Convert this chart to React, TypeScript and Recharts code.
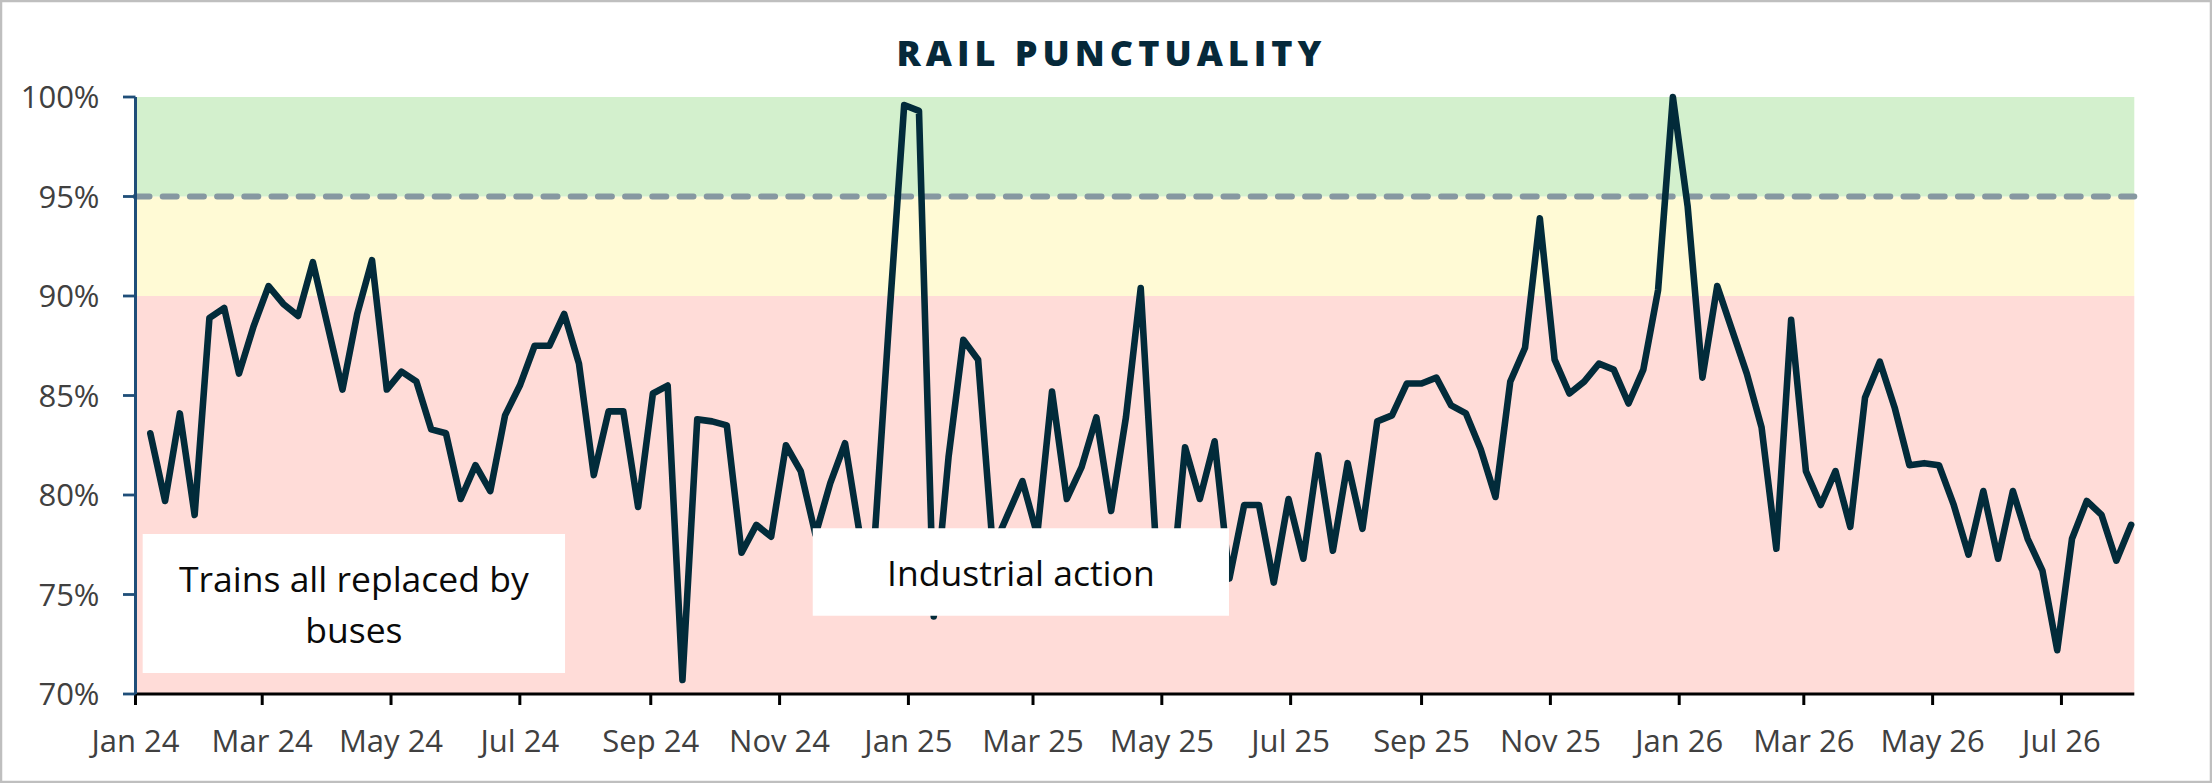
import React from 'react';
import { LineChart, Line, XAxis, YAxis, ReferenceArea, ReferenceLine } from 'recharts';

// ---------- data ----------
const axisStartDate = '2024-01-01';
const firstWeekDate = '2024-01-08';
const axisEndDay = 946.5;

// weekly rail punctuality (%), one value per week from 8 Jan 2024
const punctuality: number[] = [
  83.1, 79.7, 84.1, 79.0, 88.9, 89.4, 86.1, 88.5, 90.5, 89.6,
  89.0, 91.7, 88.5, 85.3, 89.1, 91.8, 85.3, 86.2, 85.7, 83.3,
  83.1, 79.8, 81.5, 80.2, 84.0, 85.5, 87.5, 87.5, 89.1, 86.6,
  81.0, 84.2, 84.2, 79.4, 85.1, 85.5, 70.7, 83.8, 83.7, 83.5,
  77.1, 78.5, 77.9, 82.5, 81.2, 78.0, 80.6, 82.6, 78.0, 77.8,
  89.0, 99.6, 99.3, 73.9, 81.9, 87.8, 86.8, 77.3, 79.0, 80.7,
  78.0, 85.2, 79.8, 81.4, 83.9, 79.2, 83.9, 90.4, 77.8, 74.5,
  82.4, 79.8, 82.7, 75.8, 79.5, 79.5, 75.6, 79.8, 76.8, 82.0,
  77.2, 81.6, 78.3, 83.7, 84.0, 85.6, 85.6, 85.9, 84.5, 84.1,
  82.3, 79.9, 85.7, 87.4, 93.9, 86.8, 85.1, 85.7, 86.6, 86.3,
  84.6, 86.3, 90.3, 100.0, 94.5, 85.9, 90.5, 88.3, 86.1, 83.4,
  77.3, 88.8, 81.2, 79.5, 81.2, 78.4, 84.9, 86.7, 84.4, 81.5,
  81.6, 81.5, 79.5, 77.0, 80.2, 76.8, 80.2, 77.8, 76.2, 72.2,
  77.8, 79.7, 79.0, 76.7, 78.5,
];

const tickMonths = [
  '2024-01-01', '2024-03-01', '2024-05-01', '2024-07-01', '2024-09-01', '2024-11-01',
  '2025-01-01', '2025-03-01', '2025-05-01', '2025-07-01', '2025-09-01', '2025-11-01',
  '2026-01-01', '2026-03-01', '2026-05-01', '2026-07-01',
];
const tickLabels = [
  'Jan 24', 'Mar 24', 'May 24', 'Jul 24', 'Sep 24', 'Nov 24',
  'Jan 25', 'Mar 25', 'May 25', 'Jul 25', 'Sep 25', 'Nov 25',
  'Jan 26', 'Mar 26', 'May 26', 'Jul 26',
];

const yTicks = [70, 75, 80, 85, 90, 95, 100];
const bandEdges = [70, 90, 95, 100];
const targetLevel = 95;

const annotationTexts = [['Trains all replaced by', 'buses'], ['Industrial action']];
// annotation box extents in data units: [dayFrom, dayTo, valueFrom, valueTo]
const annotationExtents = [
  [3.4, 203.4, 71.06, 78.04],
  [320.7, 517.8, 73.93, 78.33],
];

// ---------- derived ----------
const DAY_MS = 86400000;
const dayOf = (d: string) => (Date.parse(d) - Date.parse(axisStartDate)) / DAY_MS;
const firstDay = dayOf(firstWeekDate);
const chartData = punctuality.map((v, i) => ({ day: firstDay + 7 * i, v }));
const tickDays = tickMonths.map(dayOf);
const labelByDay: Record<number, string> = {};
tickDays.forEach((d, i) => { labelByDay[d] = tickLabels[i]; });

// ---------- styles ----------
const bandColors = ['#FFDCD8', '#FFFAD5', '#D3F0CD'];
const lineColor = '#022B3A';
const FONT = '"Open Sans", "Liberation Sans", sans-serif';

const W = 2212;
const H = 783;

const AnnotationLabel = (props: any) => {
  const vb = props.viewBox || {};
  const { x = 0, y = 0, width = 0, height = 0 } = vb;
  const lines: string[] = props.lines || [];
  const cx = x + width / 2;
  const cy = y + height / 2;
  const lh = 50.4;
  const capHalf = 14.2;
  return (
    <g>
      {lines.map((t, i) => (
        <text
          key={i}
          x={cx}
          y={cy + capHalf + (i - (lines.length - 1) / 2) * lh}
          textAnchor="middle"
          fontFamily={FONT}
          fontSize={35.5}
          fill="#0a0a0a"
        >
          {t}
        </text>
      ))}
    </g>
  );
};

export default function App() {
  return (
    <div style={{ position: 'absolute', left: 0, top: 0, width: W, height: H, background: '#fff', overflow: 'hidden' }}>
      <LineChart
        width={W}
        height={H}
        data={chartData}
        margin={{ top: 97, right: 77.7, bottom: 39, left: 0 }}
      >
        {bandEdges.slice(0, -1).map((from, i) => (
          <ReferenceArea
            key={'band' + i}
            y1={from}
            y2={bandEdges[i + 1]}
            fill={bandColors[i]}
            fillOpacity={1}
            stroke="none"
            ifOverflow="extendDomain"
          />
        ))}
        <ReferenceLine
          y={targetLevel}
          stroke="#8698A1"
          strokeWidth={6}
          strokeDasharray="14 13.2"
          strokeLinecap="round"
        />
        <XAxis
          type="number"
          dataKey="day"
          domain={[0, axisEndDay]}
          ticks={tickDays}
          interval={0}
          tickFormatter={(d: number) => labelByDay[d] ?? ''}
          axisLine={{ stroke: '#000', strokeWidth: 3.2 }}
          tickLine={{ stroke: '#000', strokeWidth: 3 }}
          tickSize={11}
          tickMargin={24.5}
          height={50}
          tick={{ fill: '#404040', fontSize: 31, fontFamily: FONT }}
        />
        <YAxis
          type="number"
          domain={[70, 100]}
          ticks={yTicks}
          interval={0}
          tickFormatter={(v: number) => `${v}%`}
          axisLine={{ stroke: '#1F4E79', strokeWidth: 3 }}
          tickLine={{ stroke: '#1F4E79', strokeWidth: 2.8 }}
          tickSize={12.5}
          tickMargin={23.5}
          width={135.5}
          tick={{ fill: '#404040', fontSize: 31, fontFamily: FONT }}
        />
        <Line
          type="linear"
          dataKey="v"
          stroke={lineColor}
          strokeWidth={6.6}
          strokeLinejoin="round"
          strokeLinecap="round"
          dot={false}
          activeDot={false}
          isAnimationActive={false}
        />
        {annotationExtents.map((e, i) => (
          <ReferenceArea
            key={'ann' + i}
            x1={e[0]}
            x2={e[1]}
            y1={e[2]}
            y2={e[3]}
            fill="#ffffff"
            fillOpacity={1}
            stroke="none"
            zIndex={1500}
            label={(p: any) => <AnnotationLabel {...p} lines={annotationTexts[i]} />}
          />
        ))}
      </LineChart>
      <svg width={W} height={H} style={{ position: 'absolute', left: 0, top: 0, pointerEvents: 'none' }}>
        <text
          x={1109}
          y={65.7}
          textAnchor="middle"
          fontFamily={FONT}
          fontWeight={800}
          fontSize={36}
          fill="#06293A"
          textLength={425}
          lengthAdjust="spacing"
        >
          RAIL PUNCTUALITY
        </text>
        <rect x={1} y={1} width={W - 2} height={H - 2} fill="none" stroke="#BFBFBF" strokeWidth={2.5} />
      </svg>
    </div>
  );
}
